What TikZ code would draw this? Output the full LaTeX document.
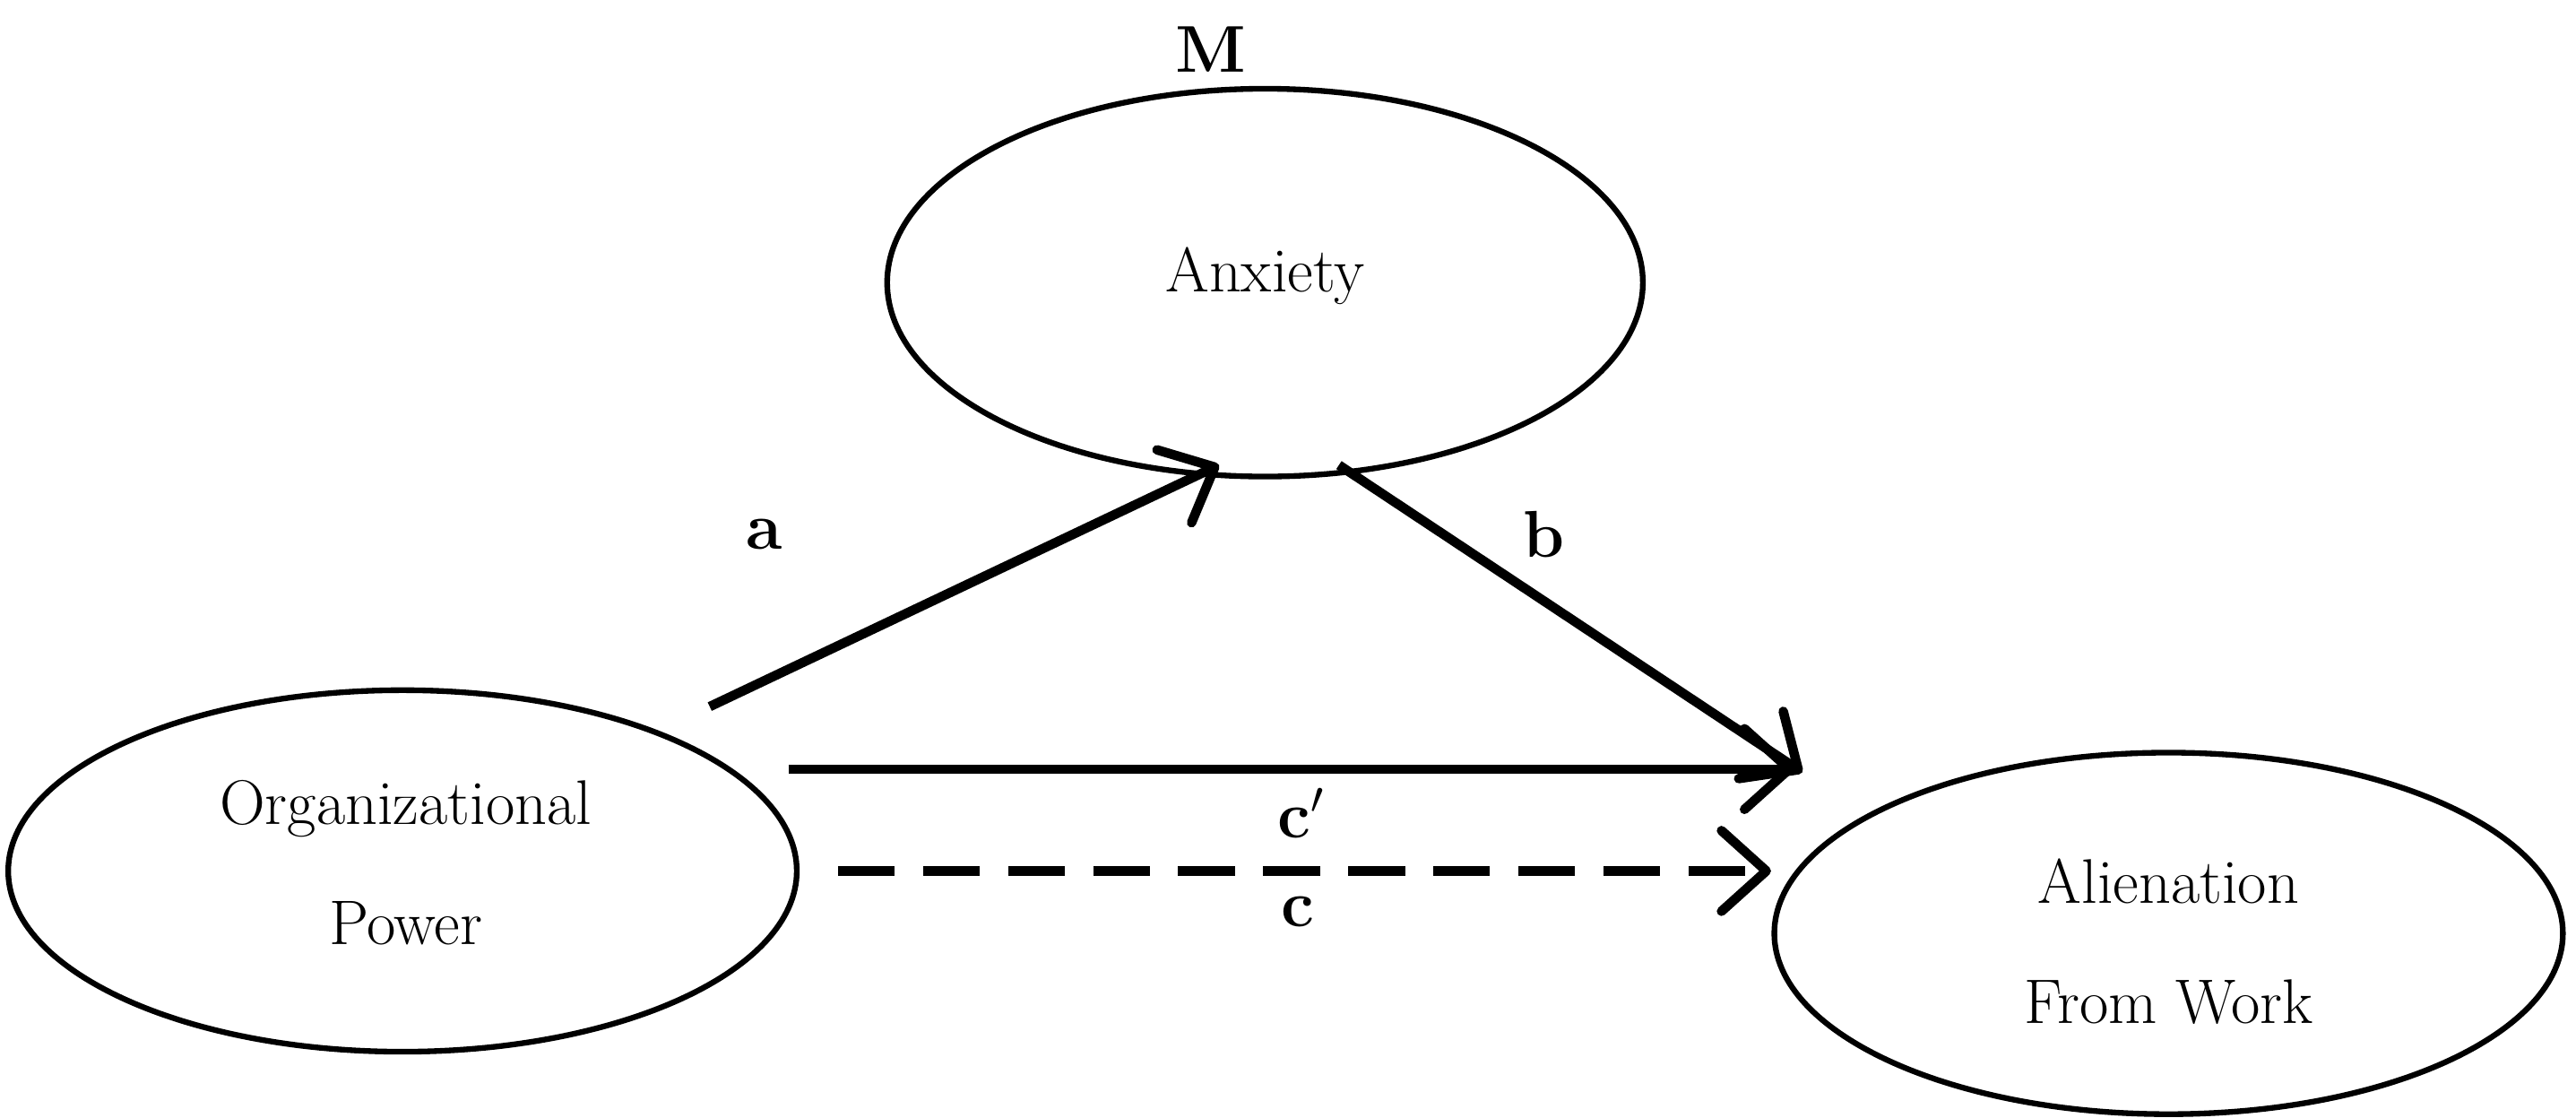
\documentclass[tikz,border=0pt]{standalone}
\usetikzlibrary{arrows.meta}
\begin{document}
\begin{tikzpicture}[x=0.018333cm,y=-0.018333cm,
  txt/.style={font=\fontsize{20}{26}\selectfont,align=center},
  lab/.style={font=\fontsize{21}{24}\selectfont\bfseries},
  arr/.style={line width=3pt,-{Straight Barb[length=0.5cm,width=0.9cm,round]}}]
\useasboundingbox (0,0) rectangle (1568,680);
\draw[line width=1.8pt] (770,172) ellipse [x radius=230,y radius=118];
\node[txt] (anx) at (770,168) {Anxiety};
\draw[line width=1.8pt] (245,530) ellipse [x radius=240,y radius=110];
\node[txt] (org) at (247,525) {Organizational\\[12pt]Power};
\draw[line width=1.8pt] (1320,568) ellipse [x radius=240,y radius=110];
\node[txt] (ali) at (1320,573) {Alienation\\[12pt]From Work};
\node[lab] (m) at (737,30) {M};
\coordinate (a1) at (432,430); \coordinate (a2) at (742,283);
\coordinate (b1) at (815,283); \coordinate (b2) at (1097,470);
\coordinate (c1) at (480,468); \coordinate (c2) at (1092,468);
\coordinate (d1) at (510,530); \coordinate (d2) at (1078,530);
\draw[arr] (a1) -- (a2);
\draw[arr] (b1) -- (b2);
\draw[arr] (c1) -- (c2);
\draw[arr,dash pattern=on 18pt off 9pt] (d1) -- (d2);
\node[lab] (la) at (465,325) {a};
\node[lab] (lb) at (940,325) {b};
\node[lab] (lc1) at (792,495) {c$'$};
\node[lab] (lc) at (790,555) {c};
\end{tikzpicture}
\end{document}
